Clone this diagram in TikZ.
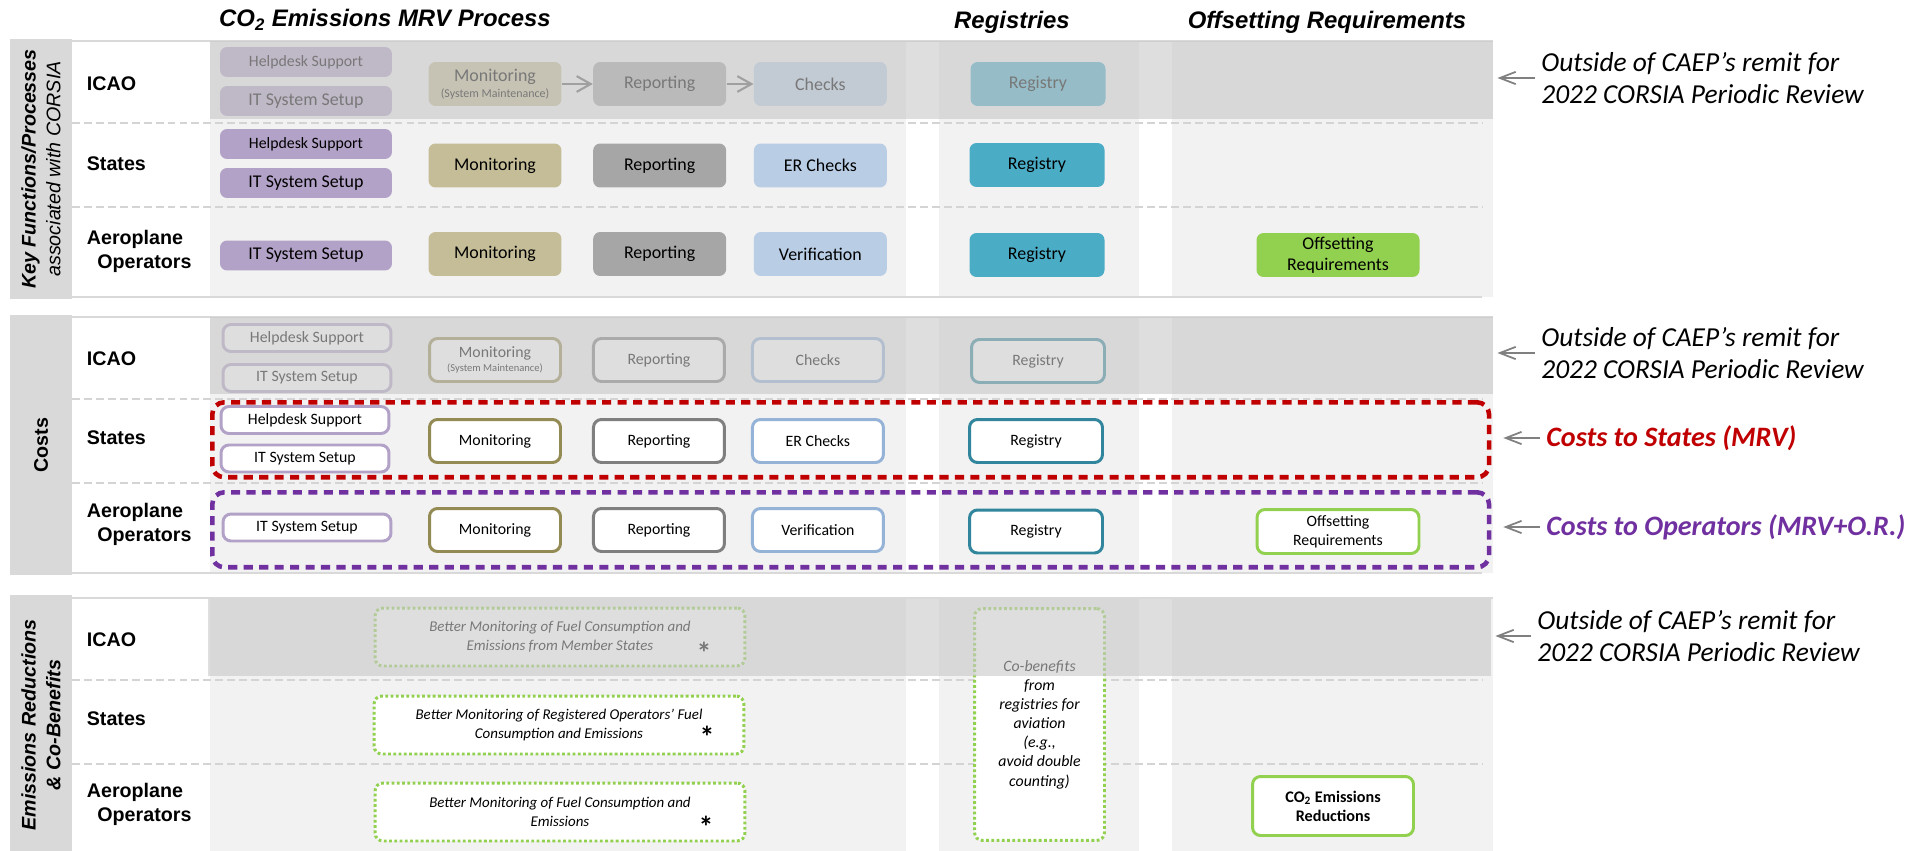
\documentclass[tikz,border=0pt]{standalone}
\usepackage{fontspec}
\setmainfont{Carlito}
\newfontfamily\arialfont{Liberation Sans}
\usetikzlibrary{arrows.meta, positioning}

\definecolor{sidegrey}{HTML}{D9D9D9}
\definecolor{colgrey}{HTML}{F2F2F2}
\definecolor{rulegrey}{HTML}{D4D4D4}
\definecolor{bandgrey}{HTML}{C8C8C8}
\definecolor{flowgrey}{HTML}{666666}
\definecolor{remarkgrey}{HTML}{808080}
\definecolor{itpurple}{HTML}{B3A2C7}
\definecolor{montan}{HTML}{C4BD97}
\definecolor{monolive}{HTML}{948A54}
\definecolor{repgrey}{HTML}{A6A6A6}
\definecolor{repdark}{HTML}{7F7F7F}
\definecolor{chkblue}{HTML}{B9CDE5}
\definecolor{chkline}{HTML}{95B3D7}
\definecolor{regteal}{HTML}{4BACC6}
\definecolor{regdark}{HTML}{31859C}
\definecolor{offgreen}{HTML}{92D050}
\definecolor{statered}{HTML}{C00000}
\definecolor{oppurple}{HTML}{7030A0}

\begin{document}
\begin{tikzpicture}[
    x=0.02cm, y=-0.02cm,
    every node/.style={inner sep=2pt},
    header/.style={font={\arialfont\bfseries\itshape\fontsize{13.6}{16}\selectfont}},
    sidelabel/.style={
        rotate=90,
        fill=sidegrey,
        minimum width=5.2cm,
        minimum height=1.24cm,
        align=center,
        font={\arialfont\fontsize{11.2}{14}\selectfont}
    },
    rowlabel/.style={anchor=west, align=left, font={\arialfont\bfseries\fontsize{11.2}{13.6}\selectfont}},
    kbox/.style={
        rectangle,
        rounded corners=0.14cm,
        minimum width=2.66cm,
        minimum height=0.88cm,
        align=center,
        font={\fontsize{10.2}{12}\selectfont}
    },
    kit/.style={kbox, fill=itpurple, minimum width=3.44cm, minimum height=0.6cm},
    cbox/.style={
        rectangle,
        draw,
        fill=white,
        line width=1.7pt,
        rounded corners=0.16cm,
        minimum width=2.62cm,
        minimum height=0.86cm,
        align=center,
        font={\fontsize{9}{10.8}\selectfont}
    },
    cit/.style={cbox, draw=itpurple, minimum width=3.36cm, minimum height=0.54cm},
    gbox/.style={
        rectangle,
        draw=offgreen,
        fill=white,
        line width=1.7pt,
        dash pattern=on 1.6pt off 1.4pt,
        rounded corners=0.16cm,
        align=center,
        font={\itshape\fontsize{8.5}{10.8}\selectfont}
    },
    star/.style={font={\bfseries\fontsize{17}{17}\selectfont}, inner sep=0pt},
    icaoband/.style={fill=bandgrey, fill opacity=0.6, anchor=north west, inner sep=0pt,
        minimum width=25.66cm, minimum height=1.56cm},
    costframe/.style={rectangle, rounded corners=0.24cm, line width=2.6pt,
        dash pattern=on 5.2pt off 3.6pt, anchor=north west, inner sep=0pt,
        minimum width=25.54cm, minimum height=1.5cm},
    edgerule/.style={draw=sidegrey, line width=1.2pt},
    rowrule/.style={draw=rulegrey, line width=1.1pt, dash pattern=on 4.5pt off 2.3pt},
    remark/.style={anchor=west, align=left, inner sep=0pt, font={\itshape\fontsize{15.6}{18.2}\selectfont}},
    costremark/.style={remark, font={\bfseries\itshape\fontsize{16}{19}\selectfont}},
    remarkarrow/.style={draw=remarkgrey, line width=1pt, shorten <=0.12cm, shorten >=0.08cm,
        -{Straight Barb[length=9pt,width=7pt]}},
    flowarrow/.style={draw=flowgrey, line width=1.2pt, -{Straight Barb[length=8pt,width=9pt]}}
]
\useasboundingbox (0,0) rectangle (1909,851);

% Column backgrounds and row rules of the three blocks
\foreach \T in {41,317,598}{
    \fill[colgrey] (210,\T) rectangle (906,\T+256);
    \fill[colgrey] (939,\T) rectangle (1139,\T+256);
    \fill[colgrey] (1172,\T) rectangle (1493,\T+256);
    \draw[edgerule] (72,\T) -- (1493,\T);
    \draw[edgerule] (72,\T+256) -- (1482,\T+256);
    \draw[rowrule] (72,\T+82) -- (1482,\T+82);
    \draw[rowrule] (72,\T+166) -- (1482,\T+166);
}

% Column headers
\node[header] (mrvtitle) at (385,20) {CO\textsubscript{2} Emissions MRV Process};
\node[header] (regtitle) at (1012,22) {Registries};
\node[header] (offtitle) at (1327,22) {Offsetting Requirements};

% ---- Key functions / processes ----
\node[sidelabel] (side1) at (41,169) {{\bfseries\itshape Key Functions/Processes}\\{\itshape associated with CORSIA}};
\node[rowlabel] (icao1) at (83,84) {ICAO};
\node[rowlabel] (states1) at (83,164) {States};
\node[rowlabel] (ops1) at (83,251) {Aeroplane\\\hspace*{6pt}Operators};

% ICAO
\node[kit, font={\fontsize{9}{11}\selectfont}] (help1) at (306,62) {Helpdesk Support};
\node[kit] (it1) at (306,101) {IT System Setup};
\node[kbox, fill=montan] (mon1) at (495,84) {Monitoring\\[-3pt]{\fontsize{6.8}{8}\selectfont(System Maintenance)}};
\node[kbox, fill=repgrey, right=0.62cm of mon1] (rep1) {Reporting};
\node[kbox, fill=chkblue, right=0.54cm of rep1] (chk1) {Checks};
\node[kbox, fill=regteal, minimum width=2.7cm] (reg1) at (1038,84) {Registry};
\draw[flowarrow] (mon1) -- (rep1);
\draw[flowarrow] (rep1) -- (chk1);

% States
\node[kit, font={\fontsize{9}{11}\selectfont}] (help2) at (306,144) {Helpdesk Support};
\node[kit] (it2) at (306,183) {IT System Setup};
\node[kbox, fill=montan] (mon2) at (495,165.5) {Monitoring};
\node[kbox, fill=repgrey, right=0.62cm of mon2] (rep2) {Reporting};
\node[kbox, fill=chkblue, right=0.54cm of rep2] (chk2) {ER Checks};
\node[kbox, fill=regteal, minimum width=2.7cm] (reg2) at (1037,165) {Registry};

% Aeroplane operators
\node[kit] (it3) at (306,255.5) {IT System Setup};
\node[kbox, fill=montan] (mon3) at (495,254) {Monitoring};
\node[kbox, fill=repgrey, right=0.62cm of mon3] (rep3) {Reporting};
\node[kbox, fill=chkblue, right=0.54cm of rep3] (ver3) {Verification};
\node[kbox, fill=regteal, minimum width=2.7cm] (reg3) at (1037,255) {Registry};
\node[kbox, fill=offgreen, minimum width=3.26cm] (off3) at (1338,255) {Offsetting\\Requirements};

% ---- Costs ----
\node[sidelabel] (side2) at (41,445) {\bfseries Costs};
\node[rowlabel] (icao2) at (83,359) {ICAO};
\node[rowlabel] (states2) at (83,438) {States};
\node[rowlabel] (ops2) at (83,524) {Aeroplane\\\hspace*{6pt}Operators};

% ICAO
\node[cit] (help4) at (307,338) {Helpdesk Support};
\node[cit] (it4) at (307,378) {IT System Setup};
\node[cbox, draw=monolive] (mon4) at (495,360) {Monitoring\\[-3pt]{\fontsize{6}{7}\selectfont(System Maintenance)}};
\node[cbox, draw=repdark, right=0.6cm of mon4] (rep4) {Reporting};
\node[cbox, draw=chkline, right=0.5cm of rep4] (chk4) {Checks};
\node[cbox, draw=regdark, minimum width=2.66cm] (reg4) at (1038,361) {Registry};

% States
\node[cit] (help5) at (305,420) {Helpdesk Support};
\node[cit] (it5) at (305,458.5) {IT System Setup};
\node[cbox, draw=monolive] (mon5) at (495,441) {Monitoring};
\node[cbox, draw=repdark, right=0.6cm of mon5] (rep5) {Reporting};
\node[cbox, draw=chkline, right=0.5cm of rep5] (chk5) {ER Checks};
\node[cbox, draw=regdark, minimum width=2.66cm] (reg5) at (1036,441) {Registry};

% Aeroplane operators
\node[cit] (it6) at (307,527.5) {IT System Setup};
\node[cbox, draw=monolive] (mon6) at (495,530) {Monitoring};
\node[cbox, draw=repdark, right=0.6cm of mon6] (rep6) {Reporting};
\node[cbox, draw=chkline, right=0.5cm of rep6] (ver6) {Verification};
\node[cbox, draw=regdark, minimum width=2.66cm] (reg6) at (1036,531.5) {Registry};
\node[cbox, draw=offgreen, minimum width=3.24cm, minimum height=0.88cm] (off6) at (1338,531.5) {Offsetting\\Requirements};

% ---- Emissions reductions & co-benefits ----
\node[sidelabel] (side3) at (41,725) {{\bfseries\itshape Emissions Reductions}\\{\bfseries\itshape\& Co-Benefits}};
\node[rowlabel] (icao3) at (83,640) {ICAO};
\node[rowlabel] (states3) at (83,719) {States};
\node[rowlabel] (ops3) at (83,804) {Aeroplane\\\hspace*{6pt}Operators};

\node[gbox, minimum width=7.4cm, minimum height=1.16cm] (ben7) at (560,637) {Better Monitoring of Fuel Consumption and\\Emissions from Member States};
\node[gbox, minimum width=7.4cm, minimum height=1.16cm] (ben8) at (559,725) {Better Monitoring of Registered Operators’ Fuel\\Consumption and Emissions};
\node[gbox, minimum width=7.4cm, minimum height=1.16cm] (ben9) at (560,812) {Better Monitoring of Fuel Consumption and\\Emissions};
\node[star] (ast7) at (704,653) {*};
\node[star] (ast8) at (707,737) {*};
\node[star] (ast9) at (706,827) {*};
\node[gbox, minimum width=2.6cm, minimum height=4.64cm, font={\itshape\fontsize{9}{10.9}\selectfont}] (cobenefit) at (1039.5,724.5)
    {Co-benefits\\from\\registries for\\aviation\\(e.g.,\\avoid double\\counting)};
\node[cbox, draw=offgreen, minimum width=3.22cm, minimum height=1.18cm, font={\bfseries\fontsize{9.2}{10.8}\selectfont}] (co2red) at (1333,806)
    {CO\textsubscript{2} Emissions\\Reductions};

% ICAO rows sit outside the review: grey them out
\node[icaoband] (band1) at (210,41) {};
\node[icaoband, minimum height=1.54cm] (band2) at (210,317) {};
\node[icaoband, minimum height=1.54cm] (band3) at (208,599) {};

% Cost frames
\node[costframe, draw=statered] (coststates) at (210,400) {};
\node[costframe, draw=oppurple] (costops) at (210,490) {};

% Remarks on the right
\node[remark] (remark1) at (1541,78) {Outside of CAEP’s remit for\\2022 CORSIA Periodic Review};
\node[remark] (remark2) at (1541,353) {Outside of CAEP’s remit for\\2022 CORSIA Periodic Review};
\node[costremark, text=statered] (remark3) at (1546,438) {Costs to States (MRV)};
\node[costremark, text=oppurple] (remark4) at (1546,527) {Costs to Operators (MRV+O.R.)};
\node[remark] (remark5) at (1537,636) {Outside of CAEP’s remit for\\2022 CORSIA Periodic Review};

\draw[remarkarrow] (remark1.west) -- (band1.east |- remark1.west);
\draw[remarkarrow] (remark2.west) -- (band2.east |- remark2.west);
\draw[remarkarrow, shorten >=0.24cm] (remark3.west) -- (coststates.east |- remark3.west);
\draw[remarkarrow, shorten >=0.24cm] (remark4.west) -- (costops.east |- remark4.west);
\draw[remarkarrow] (remark5.west) -- (band3.east |- remark5.west);

\end{tikzpicture}
\end{document}
